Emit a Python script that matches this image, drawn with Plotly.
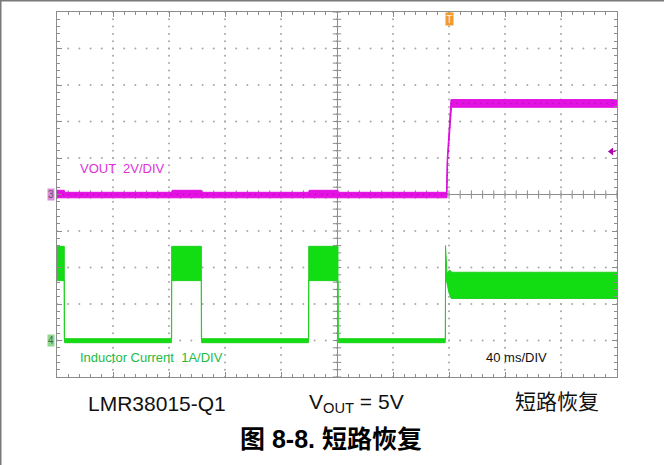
import plotly.graph_objects as go

# ---------------- data ----------------
# time in ms relative to screen centre (40 ms/DIV, 10 DIV wide)
t_range = [-200, 200]
# inductor current (A), 1 A/DIV, channel-4 ground 4 DIV below centre
cur_t_hi = [-200, -194.8, -194.8, -118.1, -118.1, -96.9, -96.9, -20.2, -20.2, 0.7, 0.7, 77.5, 77.5, 78.0, 78.6, 79.6, 80.6, 82.0, 200]
cur_hi   = [2.58, 2.58, 0.05, 0.05, 2.58, 2.58, 0.05, 0.05, 2.58, 2.58, 0.05, 0.05, 2.60, 2.05, 1.82, 1.90, 1.93, 1.87, 1.87]
cur_t_lo = [-200, -194.8, -194.6, -118.3, -118.1, -96.9, -96.7, -20.4, -20.2, 0.7, 0.9, 77.3, 77.5, 78.4, 80.0, 81.6, 200]
cur_lo   = [1.64, 1.64, -0.06, -0.06, 1.64, 1.64, -0.06, -0.06, 1.64, 1.64, -0.06, -0.06, 1.64, 1.60, 1.30, 1.15, 1.15]
cur_offset_div = -4.0
cur_scale = 1.0  # A/DIV

# output voltage (V), 2 V/DIV, channel-3 ground at centre
vo_t_hi = [-200, -194.8, -194.5, -118.1, -117.8, -96.9, -96.6, -20.2, -19.9, 0.7, 1.0, 78.2, 78.6, 81.4, 200]
vo_hi   = [0.23, 0.23, 0.12, 0.12, 0.23, 0.23, 0.12, 0.12, 0.23, 0.23, 0.12, 0.12, 1.8, 5.2, 5.2]
vo_t_lo = [-200, 78.6, 79.0, 81.8, 200]
vo_lo   = [-0.18, -0.18, 1.8, 4.78, 4.78]
vo_mid_t = [-200, 78.2, 81.6, 200]
vo_mid   = [0.0, 0.0, 5.0, 5.0]
vo_offset_div = 0.0
vo_scale = 2.0  # V/DIV

trig_level_v = 2.36
trig_time = 80

x_major = [-200, -160, -120, -80, -40, 0, 40, 80, 120, 160, 200]
y_major = [-5, -4, -3, -2, -1, 0, 1, 2, 3, 4, 5]

# ---------------- figure ----------------
W, H = 664, 465
ML, MR, MT, MB = 57, 47, 12, 88
PW, PH = W - ML - MR, H - MT - MB

def px(x):
    return (x - ML) / PW

def py(y):
    return (H - MB - y) / PH

fig = go.Figure()

# dotted graticule
x_minor = [x_major[0] + i * 8 for i in range(51)]
y_minor = [y_major[0] + i * 0.2 for i in range(51)]
gx, gy = [], []
for xm in x_major[1:-1]:
    for ym in y_minor:
        gx.append(xm); gy.append(ym)
for ym in y_major[1:-1]:
    for xm in x_minor:
        gx.append(xm); gy.append(ym)
fig.add_trace(go.Scatter(x=gx, y=gy, mode="markers",
                         marker=dict(size=2, color="#a8a8a8"), hoverinfo="skip", showlegend=False))
# ticks on the centre lines
fig.add_trace(go.Scatter(x=x_minor, y=[0] * len(x_minor), mode="markers",
                         marker=dict(symbol="line-ns", size=6, line=dict(width=1, color="#8c8c8c")),
                         hoverinfo="skip", showlegend=False))
fig.add_trace(go.Scatter(x=[0] * len(y_minor), y=y_minor, mode="markers",
                         marker=dict(symbol="line-ew", size=6, line=dict(width=1, color="#8c8c8c")),
                         hoverinfo="skip", showlegend=False))

# VOUT band
vx = vo_t_hi + vo_t_lo[::-1]
vy = [v / vo_scale + vo_offset_div for v in vo_hi] + [v / vo_scale + vo_offset_div for v in vo_lo[::-1]]
fig.add_trace(go.Scatter(x=vx, y=vy, mode="lines", fill="toself", fillcolor="#e312e3",
                         line=dict(color="#e010e0", width=1), hoverinfo="skip", showlegend=False))
# darker noise specks inside the VOUT band
fig.add_trace(go.Scatter(x=vo_mid_t, y=[v / vo_scale + vo_offset_div for v in vo_mid], mode="lines",
                         line=dict(color="#8e1a8e", width=1, dash="1px,5px"),
                         hoverinfo="skip", showlegend=False))

# inductor current band
cx = cur_t_hi + cur_t_lo[::-1]
cy = [i / cur_scale + cur_offset_div for i in cur_hi] + [i / cur_scale + cur_offset_div for i in cur_lo[::-1]]
fig.add_trace(go.Scatter(x=cx, y=cy, mode="lines", fill="toself", fillcolor="#12dc12",
                         line=dict(color="#22d022", width=1), hoverinfo="skip", showlegend=False))

# trigger level arrow (right side)
fig.add_trace(go.Scatter(x=[196], y=[trig_level_v / vo_scale + vo_offset_div], mode="markers",
                         marker=dict(symbol="triangle-left", size=7, color="#b000b0"),
                         hoverinfo="skip", showlegend=False, cliponaxis=False))

axis_common = dict(showgrid=False, showticklabels=False, showline=True, linecolor="#8c8c8c",
                   linewidth=1, mirror="allticks", ticks="inside", ticklen=5, tickcolor="#8c8c8c",
                   zeroline=True, zerolinecolor="#8c8c8c", zerolinewidth=1, fixedrange=True)
fig.update_xaxes(range=t_range, tickvals=x_major,
                 minor=dict(ticks="inside", ticklen=3, tickcolor="#8c8c8c", dtick=8, tick0=0, showgrid=False),
                 **axis_common)
fig.update_yaxes(range=[-5, 5], tickvals=y_major,
                 minor=dict(ticks="inside", ticklen=3, tickcolor="#8c8c8c", dtick=0.2, tick0=0, showgrid=False),
                 **axis_common)

FONT = "Liberation Sans, Arial, Noto Sans CJK SC, sans-serif"
ann = []
# channel markers
ann.append(dict(x=0, y=vo_offset_div, xref="paper", yref="y", xanchor="right", yanchor="middle",
                text="3", showarrow=False, font=dict(size=10, color="#6a4a6a", family=FONT),
                bgcolor="#d890d8", borderpad=0, xshift=-2))
ann.append(dict(x=0, y=cur_offset_div, xref="paper", yref="y", xanchor="right", yanchor="middle",
                text="4", showarrow=False, font=dict(size=10, color="#4a6a4a", family=FONT),
                bgcolor="#90d890", borderpad=0, xshift=-2))
# trigger position marker
ann.append(dict(x=trig_time, y=1, xref="x", yref="paper", xanchor="center", yanchor="top",
                text="T", showarrow=False, font=dict(size=11, color="#fff0d0", family=FONT),
                bgcolor="#f29a2e", borderpad=0))
# in-screen labels
ann.append(dict(x=px(78), y=py(168), xref="paper", yref="paper", xanchor="left", yanchor="middle",
                text="VOUT  2V/DIV", showarrow=False, font=dict(size=13, color="#e030d8", family=FONT)))
ann.append(dict(x=px(78), y=py(357), xref="paper", yref="paper", xanchor="left", yanchor="middle",
                text="Inductor Current  1A/DIV", showarrow=False, font=dict(size=13, color="#22bb44", family=FONT)))
ann.append(dict(x=px(484), y=py(357), xref="paper", yref="paper", xanchor="left", yanchor="middle",
                text="40 ms/DIV", showarrow=False, font=dict(size=13, color="#111111", family=FONT)))
# bottom captions
ann.append(dict(x=px(86), y=py(403), xref="paper", yref="paper", xanchor="left", yanchor="middle",
                text="LMR38015-Q1", showarrow=False, font=dict(size=21, color="#111111", family=FONT)))
ann.append(dict(x=px(307), y=py(403), xref="paper", yref="paper", xanchor="left", yanchor="middle",
                text="V<sub>OUT</sub> = 5V", showarrow=False, font=dict(size=21, color="#111111", family=FONT)))
ann.append(dict(x=px(513), y=py(401), xref="paper", yref="paper", xanchor="left", yanchor="middle",
                text="短路恢复", showarrow=False, font=dict(size=21, color="#111111", family=FONT)))
ann.append(dict(x=px(331), y=py(439), xref="paper", yref="paper", xanchor="center", yanchor="middle",
                text="<b>图 8-8. 短路恢复</b>", showarrow=False, font=dict(size=25, color="#000000", family=FONT)))

shapes = [
    dict(type="line", xref="paper", yref="paper", x0=px(0), x1=px(W), y0=py(0.5), y1=py(0.5),
         line=dict(color="#7a7a7a", width=2)),
    dict(type="line", xref="paper", yref="paper", x0=px(0.5), x1=px(0.5), y0=py(0), y1=py(H),
         line=dict(color="#7a7a7a", width=2)),
    dict(type="line", xref="x", yref="y", x0=196, x1=199,
         y0=trig_level_v / vo_scale, y1=trig_level_v / vo_scale, line=dict(color="#b000b0", width=1)),
]

fig.update_layout(width=W, height=H, margin=dict(l=ML, r=MR, t=MT, b=MB),
                  paper_bgcolor="white", plot_bgcolor="white",
                  annotations=ann, shapes=shapes, showlegend=False)

fig.write_html("out.html", config={"displayModeBar": False},
               post_script="document.body.style.margin='0';document.body.style.padding='0';")
